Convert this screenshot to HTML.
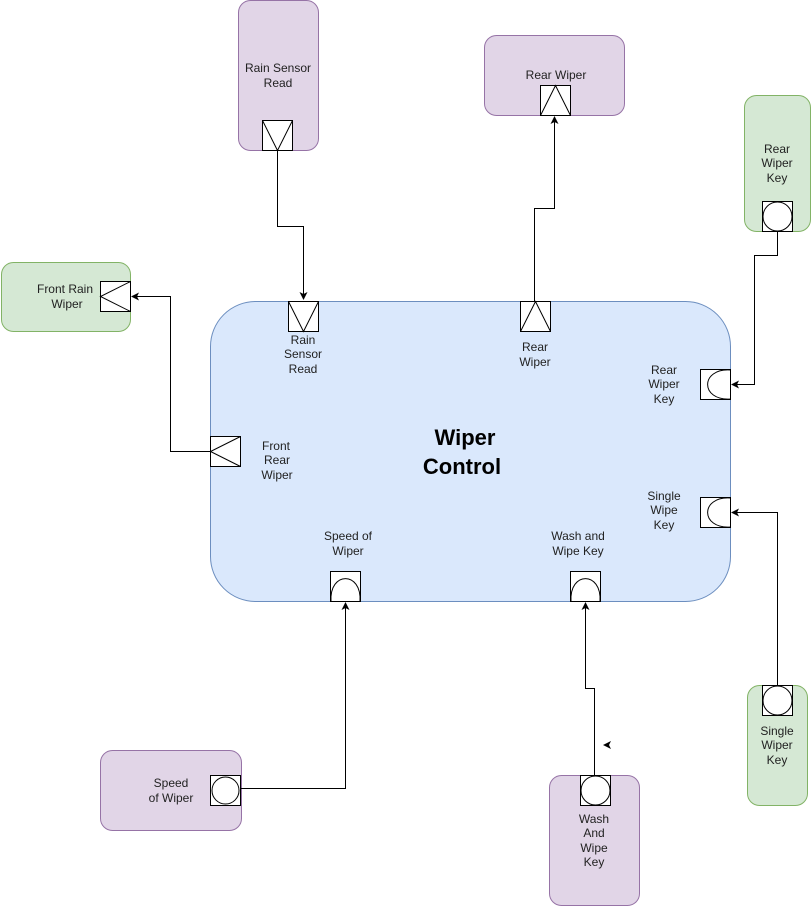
<!DOCTYPE html>
<html><head><meta charset="utf-8"><style>
html,body{margin:0;padding:0;background:#fff}
svg{display:block}
text{font-family:"Liberation Sans",Arial,sans-serif;font-size:12px;fill:#222;text-anchor:middle}
</style></head><body>
<svg width="811" height="906" viewBox="0 0 811 906" xmlns="http://www.w3.org/2000/svg">
<defs>
<marker id="a" markerWidth="10" markerHeight="10" refX="7" refY="4" orient="auto" markerUnits="userSpaceOnUse">
<path d="M0,0 L8,4 L0,8 L2,4 Z" fill="#000"/>
</marker>
</defs>
<rect x="210.5" y="301.5" width="520" height="300" rx="45" fill="#dae8fc" stroke="#6c8ebf"/>
<text x="465" y="445" style="font-size:22px;font-weight:bold;fill:#000">Wiper</text>
<text x="462" y="474" style="font-size:22px;font-weight:bold;fill:#000">Control</text>

<rect x="238.5" y="0.5" width="80" height="150" rx="12" fill="#e1d5e7" stroke="#9673a6"/>
<text x="278" y="72">Rain Sensor</text><text x="278" y="87">Read</text>
<rect x="484.5" y="35.5" width="140" height="80" rx="12" fill="#e1d5e7" stroke="#9673a6"/>
<text x="556" y="79">Rear Wiper</text>
<rect x="744.5" y="95.5" width="66" height="136" rx="12" fill="#d5e8d4" stroke="#82b366"/>
<text x="777" y="153">Rear</text><text x="777" y="167">Wiper</text><text x="777" y="182">Key</text>
<rect x="1.5" y="262.5" width="129" height="69" rx="12" fill="#d5e8d4" stroke="#82b366"/>
<text x="65" y="293">Front Rain</text><text x="67" y="308">Wiper</text>
<rect x="100.5" y="750.5" width="141" height="80" rx="12" fill="#e1d5e7" stroke="#9673a6"/>
<text x="171" y="787">Speed</text><text x="171" y="802">of Wiper</text>
<rect x="549.5" y="775.5" width="90" height="130" rx="12" fill="#e1d5e7" stroke="#9673a6"/>
<text x="594" y="823">Wash</text><text x="594" y="837">And</text><text x="594" y="852">Wipe</text><text x="594" y="866">Key</text>
<rect x="747.5" y="685.5" width="60" height="120" rx="12" fill="#d5e8d4" stroke="#82b366"/>
<text x="777" y="735">Single</text><text x="777" y="749">Wiper</text><text x="777" y="764">Key</text>

<g fill="none" stroke="#000" stroke-width="1">
<path d="M277.5,150 V226.5 H303.5 V299" marker-end="url(#a)"/>
<path d="M534.5,301 V208.5 H554.5 V117" marker-end="url(#a)"/>
<path d="M777.5,231 V255.5 H754.5 V384.5 H732" marker-end="url(#a)"/>
<path d="M210,451.5 H170.5 V296.5 H132" marker-end="url(#a)"/>
<path d="M777.5,685 V512.5 H732" marker-end="url(#a)"/>
<path d="M241,788.5 H345.5 V603" marker-end="url(#a)"/>
<path d="M594.5,775 V688.5 H585.5 V603" marker-end="url(#a)"/>
</g>
<path d="M603,745 L611,741 L609,745 L611,749 Z" fill="#000"/>

<g fill="#fff" stroke="#000" stroke-width="1">
<rect x="262.5" y="120.5" width="30" height="30"/><path d="M262.5,120.5 L277.5,150.5 L292.5,120.5" fill="none"/>
<rect x="288.5" y="301.5" width="30" height="30"/><path d="M288.5,301.5 L303.5,331.5 L318.5,301.5" fill="none"/>
<rect x="540.5" y="85.5" width="30" height="30"/><path d="M540.5,115.5 L555.5,85.5 L570.5,115.5" fill="none"/>
<rect x="520.5" y="301.5" width="30" height="30"/><path d="M520.5,331.5 L535.5,301.5 L550.5,331.5" fill="none"/>
<rect x="100.5" y="281.5" width="30" height="30"/><path d="M130.5,281.5 L100.5,296.5 L130.5,311.5" fill="none"/>
<rect x="210.5" y="436.5" width="30" height="30"/><path d="M240.5,436.5 L210.5,451.5 L240.5,466.5" fill="none"/>
<rect x="700.5" y="369.5" width="30" height="30"/><path d="M730.5,370 C700,368 700,401 730.5,399" fill="none"/>
<rect x="700.5" y="497.5" width="30" height="30"/><path d="M730.5,498 C700,496 700,529 730.5,527" fill="none"/>
<rect x="330.5" y="571.5" width="30" height="30"/><path d="M331,601.5 C329,571 362,571 360,601.5" fill="none"/>
<rect x="570.5" y="571.5" width="30" height="30"/><path d="M571,601.5 C569,571 602,571 600,601.5" fill="none"/>
<rect x="762.5" y="201.5" width="30" height="30"/><circle cx="777.5" cy="216.5" r="14.5"/>
<rect x="210.5" y="775.5" width="30" height="30"/><circle cx="225.5" cy="790.5" r="13.5"/>
<rect x="580.5" y="775.5" width="30" height="30"/><circle cx="595.5" cy="790.5" r="14.5"/>
<rect x="762.5" y="685.5" width="30" height="30"/><circle cx="777.5" cy="700.5" r="14.5"/>
</g>

<text x="303" y="344">Rain</text><text x="303" y="358">Sensor</text><text x="303" y="373">Read</text>
<text x="535" y="351">Rear</text><text x="535" y="366">Wiper</text>
<text x="664" y="374">Rear</text><text x="664" y="388">Wiper</text><text x="664" y="403">Key</text>
<text x="664" y="500">Single</text><text x="664" y="514">Wipe</text><text x="664" y="529">Key</text>
<text x="276" y="450">Front</text><text x="277" y="464">Rear</text><text x="277" y="479">Wiper</text>
<text x="348" y="540">Speed of</text><text x="348" y="555">Wiper</text>
<text x="578" y="540">Wash and</text><text x="578" y="555">Wipe Key</text>
</svg>
</body></html>
